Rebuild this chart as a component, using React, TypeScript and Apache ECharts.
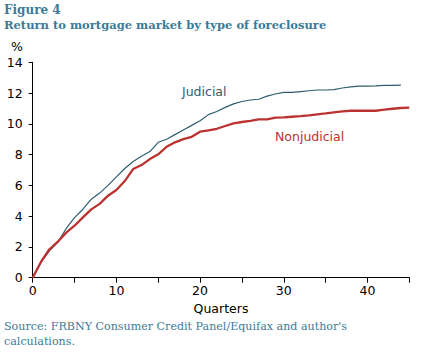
import React, { useEffect, useRef } from "react";
import * as echarts from "echarts";

const quarters: number[] = Array.from({ length: 46 }, (_, i) => i);

const judicial: number[] = [
  0, 1.0, 1.75, 2.3, 3.2, 3.9, 4.45, 5.1, 5.5, 6.0,
  6.55, 7.1, 7.55, 7.9, 8.2, 8.8, 9.0, 9.3, 9.6, 9.9,
  10.2, 10.6, 10.8, 11.07, 11.3, 11.45, 11.55, 11.6, 11.8, 11.94,
  12.05, 12.05, 12.1, 12.15, 12.2, 12.2, 12.22, 12.33, 12.4, 12.45,
  12.45, 12.47, 12.5, 12.5, 12.52,
];

const nonjudicial: number[] = [
  0, 1.04, 1.85, 2.34, 2.93, 3.38, 3.92, 4.44, 4.8, 5.33,
  5.7, 6.28, 7.06, 7.32, 7.71, 8.02, 8.51, 8.8, 9.01, 9.16,
  9.49, 9.58, 9.68, 9.86, 10.03, 10.12, 10.2, 10.29, 10.29, 10.4,
  10.42, 10.46, 10.5, 10.55, 10.62, 10.68, 10.75, 10.81, 10.85, 10.85,
  10.85, 10.85, 10.92, 10.98, 11.03, 11.05,
];

const yTicks = { min: 0, max: 14, interval: 2 };
const xTicks = { min: 0, max: 45, interval: 5 };

const titleLines = ["Figure 4", "Return to mortgage market by type of foreclosure"];
const sourceLines = [
  "Source: FRBNY Consumer Credit Panel/Equifax and author's",
  "calculations.",
];

const TITLE_COLOR = "#3b7b98";
const JUD_COLOR = "#2f5e6f";
const NONJ_COLOR = "#bb3330";
const AXIS_FONT = "DejaVu Sans";
const SERIF = "DejaVu Serif";

export default function App() {
  const ref = useRef<HTMLDivElement>(null);
  useEffect(() => {
    if (!ref.current) return;
    const chart = echarts.init(ref.current, null, { renderer: "svg" });
    chart.setOption({
      animation: false,
      backgroundColor: "#ffffff",
      grid: { left: 32.7, right: 16.7, top: 62.3, bottom: 75.3, containLabel: false },
      xAxis: {
        type: "value",
        min: xTicks.min,
        max: xTicks.max,
        interval: xTicks.interval,
        name: "Quarters",
        nameLocation: "middle",
        nameGap: 22,
        nameTextStyle: { fontFamily: AXIS_FONT, fontSize: 12.5, color: "#000" },
        axisLine: { lineStyle: { color: "#000", width: 1 } },
        axisTick: { show: true, inside: false, length: 5, lineStyle: { color: "#000" } },
        axisLabel: {
          fontFamily: AXIS_FONT,
          fontSize: 12.5,
          color: "#000",
          margin: 6,
          formatter: (v: number) => (v % 10 === 0 ? String(v) : ""),
        },
        splitLine: { show: false },
      },
      yAxis: {
        type: "value",
        min: yTicks.min,
        max: yTicks.max,
        interval: yTicks.interval,
        axisLine: { show: true, lineStyle: { color: "#000", width: 1 } },
        axisTick: { show: true, inside: false, length: 4, lineStyle: { color: "#000" } },
        axisLabel: { fontFamily: AXIS_FONT, fontSize: 12.5, color: "#000", margin: 10 },
        splitLine: { show: false },
      },
      series: [
        {
          name: "Judicial",
          type: "line",
          data: judicial.map((v, i) => [quarters[i], v]),
          showSymbol: false,
          lineStyle: { color: JUD_COLOR, width: 1.2 },
          itemStyle: { color: JUD_COLOR },
          z: 2,
        },
        {
          name: "Nonjudicial",
          type: "line",
          data: nonjudicial.map((v, i) => [quarters[i], v]),
          showSymbol: false,
          lineStyle: { color: NONJ_COLOR, width: 2.3 },
          itemStyle: { color: NONJ_COLOR },
          z: 3,
        },
      ],
      graphic: [
        {
          type: "text",
          left: 4,
          top: 4,
          style: { text: titleLines[0], fill: TITLE_COLOR, font: `bold 12px "${SERIF}"` },
        },
        {
          type: "text",
          left: 4,
          top: 19,
          style: { text: titleLines[1], fill: TITLE_COLOR, font: `bold 11.5px "${SERIF}"` },
        },
        {
          type: "text",
          left: 11,
          top: 40,
          style: { text: "%", fill: "#000", font: `12.5px "${AXIS_FONT}"` },
        },
        {
          type: "text",
          left: 182,
          top: 85,
          style: { text: "Judicial", fill: JUD_COLOR, font: `12.5px "${AXIS_FONT}"` },
        },
        {
          type: "text",
          left: 275,
          top: 130,
          style: { text: "Nonjudicial", fill: NONJ_COLOR, font: `12.5px "${AXIS_FONT}"` },
        },
        {
          type: "text",
          left: 4,
          top: 321,
          style: { text: sourceLines[0], fill: TITLE_COLOR, font: `11.1px "${SERIF}"` },
        },
        {
          type: "text",
          left: 4,
          top: 336,
          style: { text: sourceLines[1], fill: TITLE_COLOR, font: `11.1px "${SERIF}"` },
        },
      ],
    });
    return () => chart.dispose();
  }, []);
  return <div ref={ref} style={{ width: 426, height: 353, position: "absolute", left: 0, top: 0 }} />;
}
